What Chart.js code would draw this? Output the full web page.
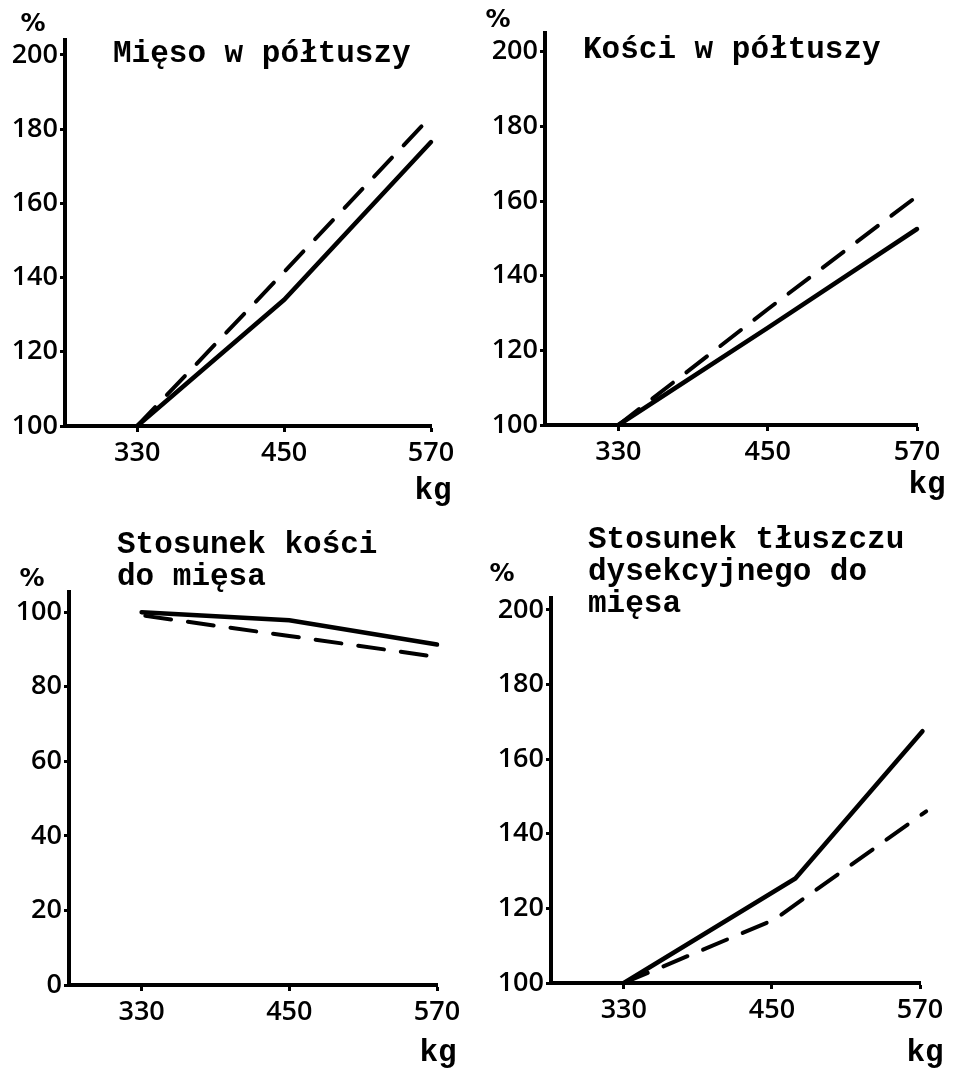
<!DOCTYPE html>
<html>
<head>
<meta charset="utf-8">
<script src="https://cdn.jsdelivr.net/npm/chart.js@4/dist/chart.umd.min.js"></script>
<style>
  body { margin: 0; background: #fff; }
  #page { position: relative; width: 955px; height: 1068px; overflow: hidden; background: #fff; }
  canvas { position: absolute; }
  .title { position: absolute; font-family: "Liberation Mono", monospace; font-weight: bold; font-size: 31px; line-height: 32px; color: #000; white-space: pre; }
  .pct { position: absolute; font-family: "DejaVu Sans", sans-serif; font-weight: bold; font-size: 25px; line-height: 1; transform: translate(-50%, -50%); }
  .kg { position: absolute; font-family: "Liberation Mono", monospace; font-weight: bold; font-size: 31px; line-height: 1; transform: translate(-50%, -50%); }
</style>
</head>
<body>
<div id="page">
  <canvas id="c1" width="478" height="520" style="left:0;top:0"></canvas>
  <canvas id="c2" width="477" height="520" style="left:478px;top:0"></canvas>
  <canvas id="c3" width="478" height="548" style="left:0;top:520px"></canvas>
  <canvas id="c4" width="477" height="548" style="left:478px;top:520px"></canvas>

  <div class="title" style="left:113px;top:38px">Mięso w półtuszy</div>
  <div class="title" style="left:583px;top:34px">Kości w półtuszy</div>
  <div class="title" style="left:117px;top:529px">Stosunek kości
do mięsa</div>
  <div class="title" style="left:588px;top:524px">Stosunek tłuszczu
dysekcyjnego do
mięsa</div>

  <div class="pct" style="left:33px;top:22px">%</div>
  <div class="pct" style="left:498px;top:18px">%</div>
  <div class="pct" style="left:32px;top:577px">%</div>
  <div class="pct" style="left:502px;top:572px">%</div>

  <div class="kg" style="left:433px;top:490px">kg</div>
  <div class="kg" style="left:927px;top:484px">kg</div>
  <div class="kg" style="left:438px;top:1052px">kg</div>
  <div class="kg" style="left:925px;top:1052px">kg</div>
</div>
<script>
// wartości (kg żywej wagi -> % względem 330 kg)
const xTickValues = [330, 450, 570];
const yTicksPct = [100, 120, 140, 160, 180, 200];
const yTicksRatio = [0, 20, 40, 60, 80, 100];

// Mięso w półtuszy
const meatKgSolid = [330, 450, 570];
const meatSolid = [100, 134, 176.5];
const meatKgDashed = [330, 450, 563];
const meatDashed = [100, 141.5, 181];

// Kości w półtuszy
const bonesKgSolid = [330, 450, 570];
const bonesSolid = [100, 126, 152.5];
const bonesKgDashed = [330, 450, 567];
const bonesDashed = [100, 131, 160.5];

// Stosunek kości do mięsa
const ratioKgSolid = [330, 450, 570];
const ratioSolid = [100, 97.8, 91.3];
const ratioKgDashed = [333, 450, 570];
const ratioDashed = [99, 93.6, 88];

// Stosunek tłuszczu dysekcyjnego do mięsa
const fatKgSolid = [330, 469, 572];
const fatSolid = [100, 128, 167.5];
const fatKgDashed = [330, 452, 575];
const fatDashed = [100, 117, 146];

const toPoints = (xs, ys) => xs.map((x, i) => ({ x: x, y: ys[i] }));

const tickFont = { family: "'Open Sans', 'DejaVu Sans', sans-serif", size: 27, weight: "600" };

function makeChart(id, p) {
  const ctx = document.getElementById(id).getContext("2d");
  return new Chart(ctx, {
    type: "line",
    data: {
      datasets: [
        {
          data: toPoints(p.kgSolid, p.solid),
          borderColor: "#000",
          borderWidth: 4.5,
          borderCapStyle: "round",
          pointRadius: 0,
          tension: 0,
        },
        {
          data: toPoints(p.kgDashed, p.dashed),
          borderColor: "#000",
          borderWidth: 4,
          borderDash: [26, 17],
          borderCapStyle: "round",
          pointRadius: 0,
          tension: 0,
        },
      ],
    },
    options: {
      responsive: false,
      animation: false,
      events: [],
      clip: false,
      layout: { padding: { left: 0, top: p.top, right: p.right, bottom: p.bottom } },
      plugins: { legend: { display: false }, tooltip: { enabled: false } },
      scales: {
        x: {
          type: "linear",
          min: 271,
          max: 570,
          afterBuildTicks: s => { s.ticks = xTickValues.map(v => ({ value: v })); },
          afterFit: s => { s.height = 50; },
          border: { display: true, color: "#000", width: 4 },
          grid: { display: true, drawOnChartArea: false, drawTicks: true, tickLength: 6, tickWidth: 3, color: "#000" },
          ticks: {
            color: "#000",
            padding: 5,
            font: tickFont,
            maxRotation: 0,
            callback: v => String(v),
          },
        },
        y: {
          type: "linear",
          min: p.yMin,
          max: p.yMax,
          afterBuildTicks: s => { s.ticks = p.yTicks.map(v => ({ value: v })); },
          afterFit: s => { s.width = p.axisX; },
          border: { display: true, color: "#000", width: 4 },
          grid: { display: true, drawOnChartArea: false, drawTicks: true, tickLength: 5, tickWidth: 3, color: "#000" },
          ticks: {
            color: "#000",
            padding: 2,
            font: tickFont,
            callback: v => String(v),
          },
        },
      },
    },
  });
}

makeChart("c1", {
  kgSolid: meatKgSolid, solid: meatSolid, kgDashed: meatKgDashed, dashed: meatDashed,
  yMin: 100, yMax: 204, yTicks: yTicksPct,
  axisX: 65, top: 40, right: 47, bottom: 44,
});
makeChart("c2", {
  kgSolid: bonesKgSolid, solid: bonesSolid, kgDashed: bonesKgDashed, dashed: bonesDashed,
  yMin: 100, yMax: 205, yTicks: yTicksPct,
  axisX: 67, top: 33, right: 38, bottom: 45,
});
makeChart("c3", {
  kgSolid: ratioKgSolid, solid: ratioSolid, kgDashed: ratioKgDashed, dashed: ratioDashed,
  yMin: 0, yMax: 105.4, yTicks: yTicksRatio,
  axisX: 69, top: 72, right: 41, bottom: 33,
});
makeChart("c4", {
  kgSolid: fatKgSolid, solid: fatSolid, kgDashed: fatKgDashed, dashed: fatDashed,
  yMin: 100, yMax: 203.2, yTicks: yTicksPct,
  axisX: 73, top: 78, right: 35, bottom: 35,
});
</script>
</body>
</html>
